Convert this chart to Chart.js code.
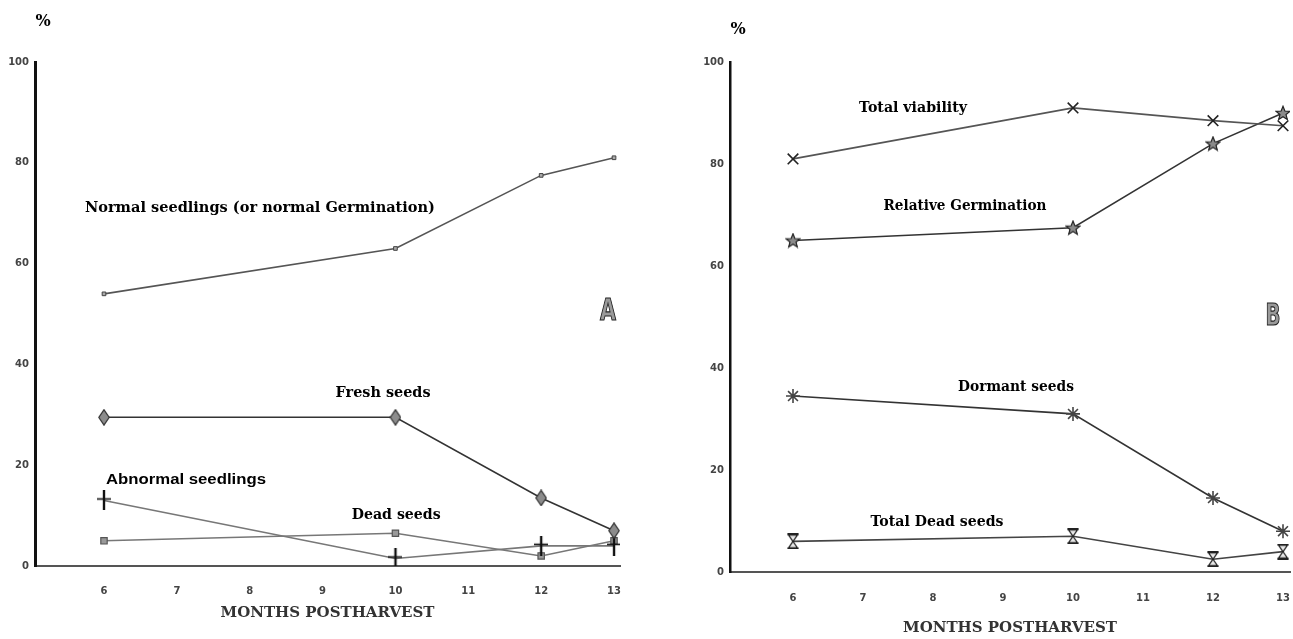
<!DOCTYPE html>
<html><head><meta charset="utf-8">
<script src="https://cdn.jsdelivr.net/npm/chart.js@4.4.1/dist/chart.umd.min.js"></script>
<style>
html,body{margin:0;padding:0;background:#fff;}
#wrap{position:relative;width:1293px;height:639px;overflow:hidden;background:#fff;}
canvas{position:absolute;top:0;}
#ca{left:0;} #cb{left:650px;}
</style></head><body>
<div id="wrap"><canvas id="ca" width="650" height="639"></canvas><canvas id="cb" width="670" height="639"></canvas></div>
<script>
// ---- data ----
const months = [6, 10, 12, 13];
const xTicks = [6, 7, 8, 9, 10, 11, 12, 13];
const yTicks = [0, 20, 40, 60, 80, 100];
const normalSeedlings   = [54, 63, 77.5, 81];
const freshSeeds        = [29.5, 29.5, 13.5, 7];
const abnormalSeedlings = [13, 1.5, 4, 4];
const deadSeeds         = [5, 6.5, 2, 5];
const totalViability      = [81, 91, 88.5, 87.5];
const relativeGermination = [65, 67.5, 84, 90];
const dormantSeeds        = [34.5, 31, 14.5, 8];
const totalDeadSeeds      = [6, 7, 2.5, 4];
const namesA = ['Normal seedlings (or normal Germination)', 'Fresh seeds', 'Abnormal seedlings', 'Dead seeds'];
const namesB = ['Total viability', 'Relative Germination', 'Dormant seeds', 'Total Dead seeds'];
const axisTitle = 'MONTHS POSTHARVEST';
const unitLabel = '%';
const panelLabels = ['A', 'B'];

// ---- marker images ----
function mk(w, h, fn) { const c = document.createElement('canvas'); c.width = w; c.height = h; fn(c.getContext('2d'), w, h); return c; }
const starImg = mk(16, 16, c => {
  c.beginPath();
  for (let i = 0; i < 10; i++) { const r = i % 2 ? 3.2 : 7.3; const a = -Math.PI / 2 + i * Math.PI / 5; c.lineTo(8 + r * Math.cos(a), 8.6 + r * Math.sin(a)); }
  c.closePath(); c.fillStyle = '#8a8a8a'; c.fill(); c.strokeStyle = '#222'; c.lineWidth = 1.2; c.stroke();
});
const hourImg = mk(12, 16, c => {
  c.strokeStyle = '#222'; c.lineWidth = 1.3; c.fillStyle = '#e8e8e8';
  c.beginPath(); c.moveTo(1.5, 1.5); c.lineTo(10.5, 1.5); c.lineTo(6, 8); c.closePath();
  c.moveTo(6, 8); c.lineTo(10.5, 14.5); c.lineTo(1.5, 14.5); c.closePath(); c.fill(); c.stroke();
  c.lineWidth = 1.8; c.beginPath(); c.moveTo(0.5, 1); c.lineTo(11.5, 1); c.moveTo(0.5, 15); c.lineTo(11.5, 15); c.stroke();
});
const plusImg = mk(14, 20, c => {
  c.strokeStyle = '#111'; c.lineWidth = 2.4; c.beginPath(); c.moveTo(7, 0); c.lineTo(7, 20); c.stroke();
  c.lineWidth = 1.6; c.beginPath(); c.moveTo(0, 8.5); c.lineTo(14, 8.5); c.stroke();
});
const diamondImg = mk(12, 17, c => {
  c.beginPath(); c.moveTo(6, 0.8); c.lineTo(11.2, 8.5); c.lineTo(6, 16.2); c.lineTo(0.8, 8.5); c.closePath();
  c.fillStyle = '#8c8c8c'; c.fill(); c.strokeStyle = '#333'; c.lineWidth = 1.2; c.stroke();
});

// ---- annotation plugin ----
const annotPlugin = {
  id: 'annot',
  afterDatasetsDraw(chart, args, opts) {
    const ctx = chart.ctx, xs = chart.scales.x, ys = chart.scales.y;
    (opts.items || []).forEach(it => {
      const px = xs.getPixelForValue(it.x), py = ys.getPixelForValue(it.y);
      ctx.save();
      ctx.font = it.font; ctx.textBaseline = 'middle'; ctx.textAlign = 'left';
      const w = ctx.measureText(it.text).width;
      const tw = it.w || w; const sx = tw / w;
      const left = it.align === 'left' ? px : px - tw / 2;
      ctx.translate(left, py); ctx.scale(sx, 1);
      ctx.fillStyle = it.fill || '#333';
      ctx.fillText(it.text, 0, 0);
      if (it.stroke) { ctx.strokeStyle = it.stroke; ctx.lineWidth = it.lw || 1; ctx.strokeText(it.text, 0, 0); }
      ctx.restore();
    });
  }
};

function scales(xmin, xmax, yW, xH, tickGap, titlePadBottom, yBorderW) {
  return {
    x: {
      type: 'linear', min: xmin, max: xmax,
      afterBuildTicks: s => { s.ticks = xTicks.map(v => ({ value: v })); },
      afterFit: s => { s.height = xH; },
      grid: { display: false, drawTicks: true, tickLength: tickGap },
      border: { display: true, color: '#555', width: 2 },
      ticks: { padding: 0, color: '#444', autoSkip: false, maxRotation: 0, font: { family: 'DejaVu Sans', weight: 'bold', size: 10 }, callback: v => String(v) },
      title: { display: true, text: axisTitle, color: '#333', font: { family: 'DejaVu Serif', weight: 'bold', size: 15 }, padding: { top: 0, bottom: titlePadBottom } }
    },
    y: {
      type: 'linear', min: 0, max: 100,
      afterBuildTicks: s => { s.ticks = yTicks.map(v => ({ value: v })); },
      afterFit: s => { s.width = yW; },
      grid: { display: false, drawTicks: false },
      border: { display: true, color: '#111', width: yBorderW },
      ticks: { padding: 6, color: '#444', font: { family: 'DejaVu Sans', weight: 'bold', size: 10 }, callback: v => String(v) }
    }
  };
}
function pts(arr) { return months.map((m, i) => ({ x: m, y: arr[i] })); }
function ds(label, arr, color, style, extra) {
  return Object.assign({ label, data: pts(arr), borderColor: color, backgroundColor: color, borderWidth: 1.6, pointStyle: style, pointRadius: 6, tension: 0, fill: false }, extra || {});
}
const common = { responsive: false, animation: false, events: [], plugins: { legend: { display: false }, tooltip: { enabled: false } } };

new Chart(document.getElementById('ca'), {
  type: 'line',
  data: { datasets: [
    ds(namesA[0], normalSeedlings, '#555', 'rect', { pointRadius: 2.6, pointBackgroundColor: '#aaa', pointBorderColor: '#444', pointBorderWidth: 1 }),
    ds(namesA[1], freshSeeds, '#333', diamondImg),
    ds(namesA[2], abnormalSeedlings, '#777', plusImg),
    ds(namesA[3], deadSeeds, '#777', 'rect', { pointRadius: 4.5, pointBackgroundColor: '#999', pointBorderColor: '#555', pointBorderWidth: 1.2 })
  ] },
  options: Object.assign({}, common, {
    layout: { padding: { left: 0, right: 30, top: 62, bottom: 0 } },
    scales: scales(5.053, 13.082, 35, 73, 19, 17, 3),
    plugins: Object.assign({}, common.plugins, { annot: { items: [
      { text: namesA[0], x: 5.739, y: 71.0, align: 'left', w: 350, font: 'bold 14px "DejaVu Serif"' },
      { text: namesA[1], x: 9.83, y: 34.3, w: 95, font: 'bold 14px "DejaVu Serif"' },
      { text: namesA[2], x: 7.125, y: 17.1, w: 160, font: 'bold 14px "Liberation Sans"' },
      { text: namesA[3], x: 10.01, y: 10.1, w: 89, font: 'bold 14px "DejaVu Serif"' },
      { text: panelLabels[0], x: 12.918, y: 50.5, w: 16, font: 'bold 31px "DejaVu Sans"', fill: '#9a9a9a', stroke: '#222', lw: 1.2 },
      { text: unitLabel, x: 5.163, y: 107.9, font: 'bold 16px "DejaVu Serif"' }
    ] } })
  }),
  plugins: [annotPlugin]
});

new Chart(document.getElementById('cb'), {
  type: 'line',
  data: { datasets: [
    ds(namesB[0], totalViability, '#555', 'crossRot', { pointRadius: 7.5, pointBorderColor: '#222', pointBorderWidth: 1.6 }),
    ds(namesB[1], relativeGermination, '#333', starImg),
    ds(namesB[2], dormantSeeds, '#333', 'star', { pointRadius: 7, pointBorderColor: '#444', pointBorderWidth: 1.6 }),
    ds(namesB[3], totalDeadSeeds, '#444', hourImg)
  ] },
  options: Object.assign({}, common, {
    layout: { padding: { left: 0, right: 30, top: 62, bottom: 0 } },
    scales: scales(5.1, 13.1, 80, 67, 20, 2, 2.5),
    plugins: Object.assign({}, common.plugins, { annot: { items: [
      { text: namesB[0], x: 7.714, y: 91.0, w: 108, font: 'bold 14px "DejaVu Serif"' },
      { text: namesB[1], x: 8.457, y: 71.6, w: 163, font: 'bold 14px "DejaVu Serif"' },
      { text: namesB[2], x: 9.186, y: 36.3, w: 116, font: 'bold 14px "DejaVu Serif"' },
      { text: namesB[3], x: 8.057, y: 9.8, w: 133, font: 'bold 14px "DejaVu Serif"' },
      { text: panelLabels[1], x: 12.857, y: 50.0, w: 15, font: 'bold 30px "DejaVu Sans"', fill: '#9a9a9a', stroke: '#222', lw: 1.2 },
      { text: unitLabel, x: 5.214, y: 106.3, font: 'bold 16px "DejaVu Serif"' }
    ] } })
  }),
  plugins: [annotPlugin]
});
</script>
</body></html>
